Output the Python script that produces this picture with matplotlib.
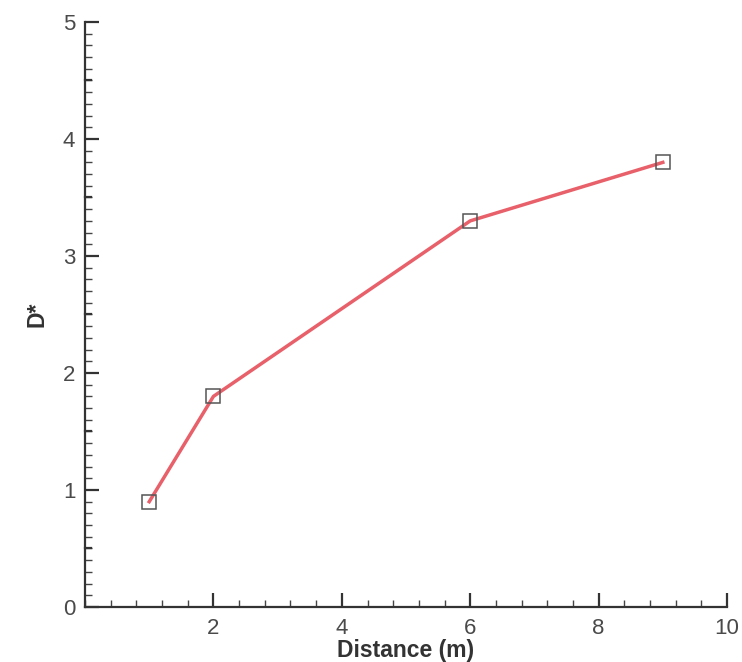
import numpy as np
import matplotlib.pyplot as plt
from matplotlib.ticker import MultipleLocator

distance = [1, 2, 6, 9]
d_star = [0.9, 1.8, 3.3, 3.8]
x_ticks = [2, 4, 6, 8, 10]
y_ticks = [0, 1, 2, 3, 4, 5]

plt.rcParams["font.family"] = ["Liberation Sans", "DejaVu Sans"]

fig = plt.figure(figsize=(7.42, 6.62), dpi=100)
ax = fig.add_axes([0.1146, 0.0831, 0.8652, 0.8837])

ax.plot(distance, d_star, color='#e8606a', lw=2.5, zorder=2)
ax.plot(distance, d_star, ls='none', marker='s', ms=10.5, mfc='none',
        mec='#555555', mew=1.1, zorder=3)

ax.set_xlim(0, 10)
ax.set_ylim(0, 5)
ax.set_xticks(x_ticks)
ax.set_yticks(y_ticks)
ax.xaxis.set_minor_locator(MultipleLocator(0.4))
ax.yaxis.set_minor_locator(MultipleLocator(0.1))

# unlabeled half-step major ticks on y
for yv in np.arange(0.5, 5, 1.0):
    ax.plot([0, 0.09], [yv, yv], color='#333333', lw=1.6, clip_on=False, zorder=4)

for s in ['top', 'right']:
    ax.spines[s].set_visible(False)
for s in ['left', 'bottom']:
    ax.spines[s].set_color('#333333')
    ax.spines[s].set_linewidth(1.6)

ax.tick_params(which='major', direction='in', length=10, width=1.6,
               color='#333333', labelsize=16, labelcolor='#4a4a4a')
ax.tick_params(which='minor', direction='in', length=5, width=1.0,
               color='#444444')
ax.tick_params(axis='x', which='major', pad=8)
ax.tick_params(axis='y', which='major', pad=7)

ax.set_xlabel("Distance (m)", fontsize=16.5, fontweight='bold', color='#333333', labelpad=0)
ax.set_ylabel("D*", fontsize=16.5, fontweight='bold', color='#333333', labelpad=10)

fig.savefig("out.png", dpi=100, facecolor='white')
